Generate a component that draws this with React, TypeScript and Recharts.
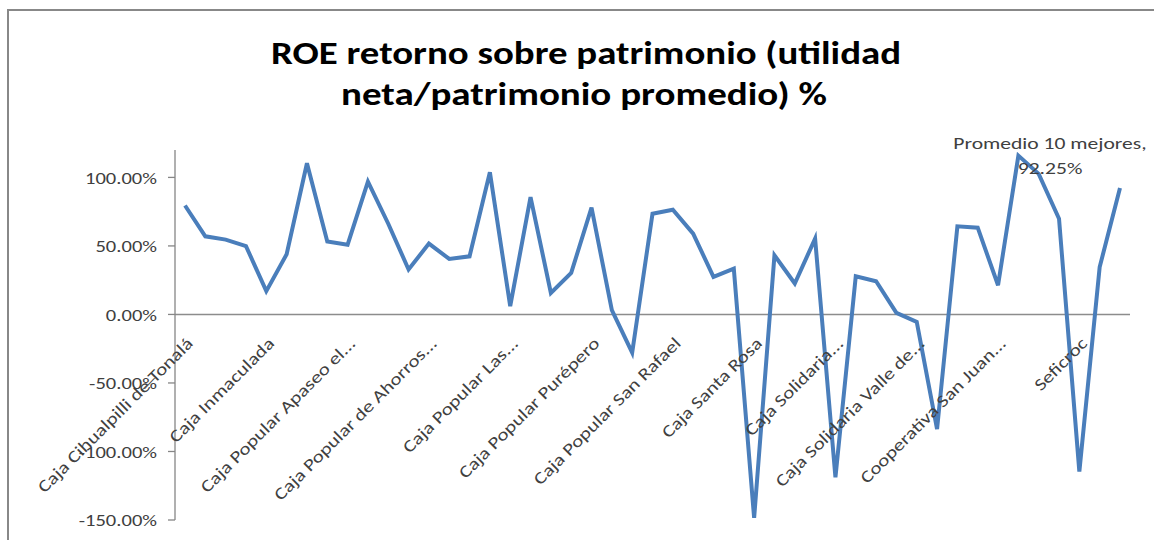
import React from 'react';
import { LineChart, Line, XAxis, YAxis, ReferenceLine, LabelList } from 'recharts';

const LABELED: Record<number, string> = {
  0: 'Caja Cihualpilli de Tonalá',
  4: 'Caja Inmaculada',
  8: 'Caja Popular Apaseo el...',
  12: 'Caja Popular de Ahorros...',
  16: 'Caja Popular Las...',
  20: 'Caja Popular Purépero',
  24: 'Caja Popular San Rafael',
  28: 'Caja Santa Rosa',
  32: 'Caja Solidaria...',
  36: 'Caja Solidaria Valle de...',
  40: 'Cooperativa San Juan...',
  44: 'Seficroc',
};

const ROE_VALUES: number[] = [
  79.5, 57.0, 54.6, 49.9, 17.0, 43.9, 110.3, 53.3, 50.9, 97.0,
  66.2, 32.8, 51.7, 40.5, 42.4, 103.8, 6.0, 85.6, 15.7, 30.3,
  77.9, 3.1, -27.9, 73.5, 76.4, 59.0, 27.4, 33.5, -148.5, 43.2,
  22.6, 55.3, -118.9, 27.9, 24.2, 1.2, -5.4, -83.7, 64.3, 63.3,
  21.3, 115.9, 102.6, 69.9, -114.6, 34.6, 92.25,
];

const CATEGORIES: string[] = ROE_VALUES.map((_, i) =>
  i === ROE_VALUES.length - 1 ? 'Promedio 10 mejores' : LABELED[i] ?? `Entidad ${i + 1}`
);
const SHOWN_LABELS = new Set(Object.values(LABELED));

const Y_TICKS = [-150, -100, -50, 0, 50, 100];
const Y_MIN = -150;
const Y_MAX = 120;
const TITLE_LINES = ['ROE retorno sobre patrimonio (utilidad', 'neta/patrimonio promedio) %'];

const data = CATEGORIES.map((name, i) => ({ name, roe: ROE_VALUES[i] }));

const W = 1154;
const H = 540;
const PLOT_TOP = 150;
const PLOT_BOTTOM_MARGIN = 19;
const X_AXIS_H = 1;
const PLOT_H = H - PLOT_TOP - PLOT_BOTTOM_MARGIN - X_AXIS_H;
const ZERO_Y = PLOT_TOP + (Y_MAX / (Y_MAX - Y_MIN)) * PLOT_H;
const FONT = 'Carlito, Calibri, Lato, sans-serif';
const STRETCH_Y = 1.21;
const STRETCH_X = 1.24;
const STRETCH_LABEL = 1.27;
const FS = 17;

const YTick = (props: any) => {
  const { x, y, payload } = props;
  return (
    <text
      transform={`translate(${x - 9},${y}) scale(${STRETCH_Y},1)`}
      textAnchor="end"
      dy="0.36em"
      fontFamily={FONT}
      fontSize={FS}
      fill="#404040"
    >
      {`${Number(payload.value).toFixed(2)}%`}
    </text>
  );
};

const XTick = (props: any) => {
  const { x, payload } = props;
  const label = String(payload?.value ?? '');
  if (!SHOWN_LABELS.has(label)) return <g />;
  return (
    <text
      transform={`translate(${x + 9},${ZERO_Y + 30}) rotate(-45) scale(${STRETCH_X},1)`}
      textAnchor="end"
      fontFamily={FONT}
      fontSize={FS}
      fill="#404040"
    >
      {label}
    </text>
  );
};

const LastLabel = (props: any) => {
  const { x, y, index, value } = props;
  if (index !== ROE_VALUES.length - 1) return null;
  const cx = x - 70;
  return (
    <g fontFamily={FONT} fontSize={FS} fill="#404040">
      <text transform={`translate(${cx},${y - 39}) scale(${STRETCH_LABEL},1)`} textAnchor="middle">
        {`${CATEGORIES[index]},`}
      </text>
      <text transform={`translate(${cx},${y - 14}) scale(${STRETCH_LABEL},1)`} textAnchor="middle">
        {`${Number(value).toFixed(2)}%`}
      </text>
    </g>
  );
};

export default function App() {
  return (
    <div style={{ position: 'absolute', left: 0, top: 0, width: W, height: H, background: '#fff', overflow: 'hidden' }}>
      <div
        style={{
          position: 'absolute',
          left: 7,
          top: 9,
          width: W,
          height: H,
          borderTop: '2px solid #888',
          borderLeft: '2px solid #888',
          boxSizing: 'border-box',
        }}
      />
      <svg width={W} height={140} style={{ position: 'absolute', left: 0, top: 0 }}>
        <text
          x={586}
          y={64}
          textAnchor="middle"
          fontFamily={FONT}
          fontWeight="bold"
          fontSize={32}
          fill="#000"
          textLength={630}
          lengthAdjust="spacingAndGlyphs"
        >
          {TITLE_LINES[0]}
        </text>
        <text
          x={584}
          y={105}
          textAnchor="middle"
          fontFamily={FONT}
          fontWeight="bold"
          fontSize={32}
          fill="#000"
          textLength={486}
          lengthAdjust="spacingAndGlyphs"
        >
          {TITLE_LINES[1]}
        </text>
      </svg>
      <div style={{ position: 'absolute', left: 0, top: 0 }}>
        <LineChart
          width={W}
          height={H}
          data={data}
          margin={{ top: PLOT_TOP, right: 24, bottom: PLOT_BOTTOM_MARGIN, left: 0 }}
        >
          <XAxis
            dataKey="name"
            interval={3}
            axisLine={false}
            tickLine={false}
            tick={<XTick />}
            height={X_AXIS_H}
            padding={{ left: 10, right: 10 }}
          />
          <YAxis
            width={175}
            domain={[Y_MIN, Y_MAX]}
            ticks={Y_TICKS}
            allowDataOverflow
            axisLine={{ stroke: '#868686', strokeWidth: 1.3 }}
            tickLine={{ stroke: '#868686', strokeWidth: 1.3 }}
            tickSize={7}
            tick={<YTick />}
          />
          <ReferenceLine y={0} stroke="#8c8c8c" strokeWidth={1.5} />
          <Line
            type="linear"
            dataKey="roe"
            stroke="#4A7EBB"
            strokeWidth={4}
            dot={false}
            isAnimationActive={false}
          >
            <LabelList dataKey="roe" content={<LastLabel />} />
          </Line>
        </LineChart>
      </div>
    </div>
  );
}
